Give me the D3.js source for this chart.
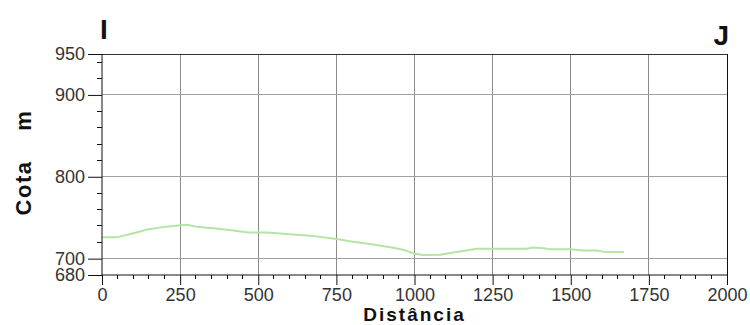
<!DOCTYPE html>
<html>
<head>
<meta charset="utf-8">
<script src="https://cdn.jsdelivr.net/npm/d3@7"></script>
<style>
  html, body { margin: 0; padding: 0; background: #fff; }
  svg { display: block; font-family: "Liberation Sans", Arial, sans-serif; }
</style>
</head>
<body>
<svg id="chart" width="750" height="325"></svg>
<script>
// ---- data ----
const distance = [0, 47, 100, 148, 196, 245, 271, 303, 356, 420, 468, 527, 580, 612, 676, 740, 804, 868, 932, 964, 996, 1028, 1082, 1124, 1162, 1199, 1252, 1359, 1380, 1412, 1434, 1498, 1540, 1583, 1605, 1670];
const elevation = [726, 726, 731, 736, 738.5, 740.6, 741.4, 739, 737, 734.5, 732, 732, 730.5, 729.6, 727.5, 724.6, 720.6, 717.2, 713.3, 710.8, 706.4, 704.3, 704.7, 707.5, 709.5, 712, 712, 712, 713.6, 712.8, 711.6, 711.6, 710, 710, 708.4, 708];
const xMajorTicks = [0, 250, 500, 750, 1000, 1250, 1500, 1750, 2000];
const yMajorTicks = [680, 700, 800, 900, 950];
const yGridValues = [700, 800, 900];
const startLabel = "I";
const endLabel = "J";
const xTitle = "Distância";
const yTitle = "Cota";
const yUnit = "m";

// ---- layout ----
const svg = d3.select("#chart");
const x = d3.scaleLinear().domain([0, 2000]).range([102, 727]);
const y = d3.scaleLinear().domain([680, 950]).range([275, 54]);
const xMinor = d3.range(0, 2001, 50);
const yMinor = d3.range(680, 950, 20);

// vertical grid
svg.append("g").selectAll("line").data(xMajorTicks.filter(d => d > 0 && d < 2000)).join("line")
  .attr("x1", d => x(d)).attr("x2", d => x(d)).attr("y1", y(950)).attr("y2", y(680))
  .attr("stroke", "#8c8c8c").attr("stroke-width", 1).attr("shape-rendering", "crispEdges");
// horizontal grid
svg.append("g").selectAll("line").data(yGridValues).join("line")
  .attr("x1", x(0)).attr("x2", x(2000)).attr("y1", d => y(d)).attr("y2", d => y(d))
  .attr("stroke", "#a0a0a0").attr("stroke-width", 1).attr("shape-rendering", "crispEdges");

// borders
svg.append("line").attr("x1", x(0)).attr("x2", x(2000)).attr("y1", y(950)).attr("y2", y(950))
  .attr("stroke", "#333").attr("shape-rendering", "crispEdges");
svg.append("line").attr("x1", x(2000)).attr("x2", x(2000)).attr("y1", y(950)).attr("y2", y(680))
  .attr("stroke", "#111").attr("shape-rendering", "crispEdges");

// data line
const line = d3.line().x((d, i) => x(distance[i])).y(d => y(d));
svg.append("path").datum(elevation)
  .attr("d", line).attr("fill", "none")
  .attr("stroke", "#b6e4a4").attr("stroke-width", 2).attr("stroke-linejoin", "round");

// y axis
const yAxis = d3.axisLeft(y).tickValues(yMajorTicks).tickSize(14).tickPadding(3).tickFormat(d3.format("d"));
const gy = svg.append("g").attr("transform", `translate(${x(0)},0)`).call(yAxis);
gy.select(".domain").remove();
gy.append("line").attr("x1", 0).attr("x2", 0).attr("y1", y(950)).attr("y2", y(680)).attr("stroke", "#111");
gy.selectAll(".tick line").attr("stroke", "#111");
gy.selectAll("text").attr("font-size", 18).attr("fill", "#333").attr("font-family", "Liberation Sans, Arial, sans-serif");
svg.append("g").selectAll("line").data(yMinor.filter(d => !yMajorTicks.includes(d))).join("line")
  .attr("x1", x(0) - 5).attr("x2", x(0)).attr("y1", d => y(d)).attr("y2", d => y(d))
  .attr("stroke", "#111").attr("shape-rendering", "crispEdges");

// x axis
const xAxis = d3.axisBottom(x).tickValues(xMajorTicks).tickSize(10).tickPadding(3).tickFormat(d3.format("d"));
const gx = svg.append("g").attr("transform", `translate(0,${y(680)})`).call(xAxis);
gx.select(".domain").remove();
gx.append("line").attr("x1", x(0)).attr("x2", x(2000)).attr("y1", 0).attr("y2", 0).attr("stroke", "#111");
gx.selectAll(".tick line").attr("stroke", "#111");
gx.selectAll("text").attr("font-size", 18).attr("fill", "#333").attr("font-family", "Liberation Sans, Arial, sans-serif");
svg.append("g").selectAll("line").data(xMinor.filter(d => !xMajorTicks.includes(d))).join("line")
  .attr("x1", d => x(d)).attr("x2", d => x(d)).attr("y1", y(680)).attr("y2", y(680) + 4)
  .attr("stroke", "#111").attr("shape-rendering", "crispEdges");

// titles
svg.append("text").attr("x", (x(0) + x(2000)) / 2).attr("y", 320.5)
  .attr("text-anchor", "middle").attr("font-size", 19).attr("font-weight", "bold")
  .attr("letter-spacing", 2).attr("fill", "#111").text(xTitle);
svg.append("text").attr("transform", "translate(31,188) rotate(-90)")
  .attr("text-anchor", "middle").attr("font-size", 22).attr("font-weight", "bold")
  .attr("letter-spacing", 1.5).attr("fill", "#111").text(yTitle);
svg.append("text").attr("transform", "translate(31,121) rotate(-90)")
  .attr("text-anchor", "middle").attr("font-size", 22).attr("font-weight", "bold")
  .attr("fill", "#111").text(yUnit);

// endpoint labels
svg.append("text").attr("x", 100).attr("y", 39).attr("font-size", 28).attr("font-weight", "bold")
  .attr("fill", "#111").text(startLabel);
svg.append("text").attr("x", 729).attr("y", 45).attr("text-anchor", "end").attr("font-size", 28).attr("font-weight", "bold")
  .attr("fill", "#111").text(endLabel);
</script>
</body>
</html>
